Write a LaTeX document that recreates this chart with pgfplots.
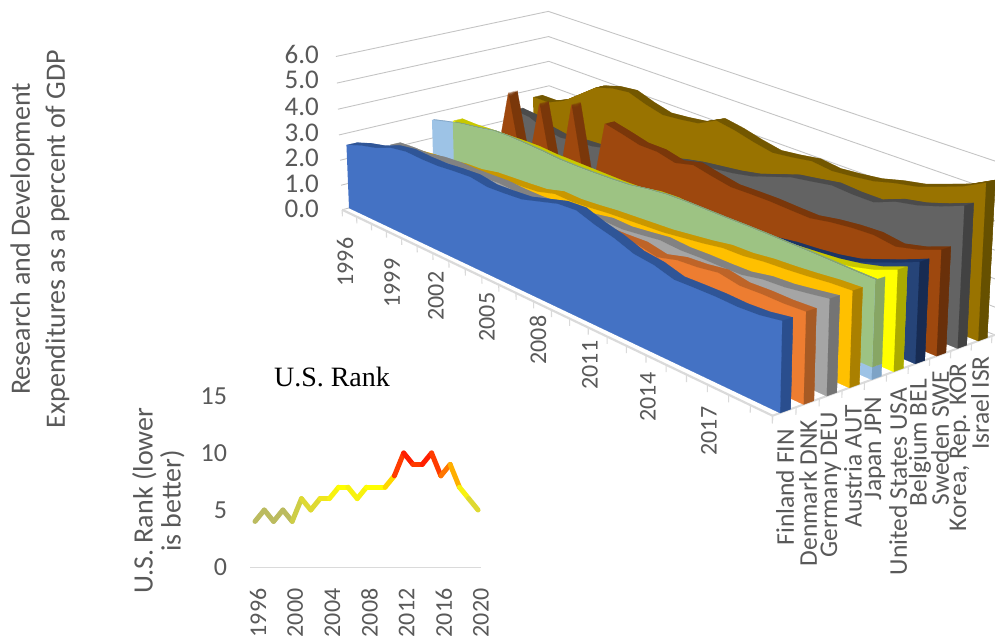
\documentclass[border=0pt]{standalone}
\usepackage{pgfplots}
\pgfplotsset{compat=1.18}
\usepackage{pgfplotstable}
\usepackage{fontspec}
\setmainfont{Carlito}
\newfontfamily\titlefont{Liberation Serif}

% R&D spending, percent of GDP; the two last rows close each series down to the floor
\pgfplotstableread{
year val
1996 2.54
1997 2.77
1998 2.93
1999 3.19
2000 3.30
2001 3.27
2002 3.28
2003 3.35
2004 3.40
2005 3.30
2006 3.34
2007 3.40
2008 3.60
2009 3.80
2010 3.85
2011 3.62
2012 3.45
2013 3.20
2014 3.12
2015 2.92
2016 2.95
2017 2.97
2018 2.95
2019 3.00
2020 3.14
2020 0
1996 0
}\tFin
\pgfplotstableread{
year val
1996 1.81
1997 1.89
1998 1.96
1999 2.11
2000 2.13
2001 2.32
2002 2.44
2003 2.51
2004 2.42
2005 2.39
2006 2.40
2007 2.50
2008 2.78
2009 3.07
2010 2.92
2011 2.94
2012 2.98
2013 2.84
2014 3.04
2015 3.10
2016 3.22
2017 3.09
2018 3.13
2019 3.13
2020 3.18
2020 0
1996 0
}\tDnk
\pgfplotstableread{
year val
1996 2.14
1997 2.19
1998 2.20
1999 2.33
2000 2.39
2001 2.39
2002 2.42
2003 2.46
2004 2.42
2005 2.42
2006 2.46
2007 2.45
2008 2.60
2009 2.73
2010 2.71
2011 2.80
2012 2.90
2013 2.85
2014 2.88
2015 2.88
2016 2.90
2017 3.05
2018 3.10
2019 3.22
2020 3.35
2020 0
1996 0
}\tDeu
\pgfplotstableread{
year val
1996 1.60
1997 1.69
1998 1.73
1999 1.85
2000 1.89
2001 2.03
2002 2.08
2003 2.13
2004 2.19
2005 2.38
2006 2.36
2007 2.42
2008 2.50
2009 2.55
2010 2.60
2011 2.65
2012 2.75
2013 2.85
2014 2.98
2015 3.00
2016 3.10
2017 3.15
2018 3.22
2019 3.31
2020 3.36
2020 0
1996 0
}\tAut
\pgfplotstableread{
year val
1996 2.73
1997 2.90
1998 3.05
1999 3.15
2000 3.28
2001 3.30
2002 3.28
2003 3.25
2004 3.20
2005 3.20
2006 3.22
2007 3.25
2008 3.30
2009 3.42
2010 3.50
2011 3.52
2012 3.52
2013 3.52
2014 3.53
2015 3.53
2016 3.52
2017 3.52
2018 3.50
2019 3.48
2020 3.47
2020 0
1996 0
}\tJpn
\pgfplotstableread{
year val
1997.4 2.98
1998 3.05
1999 3.15
2000 3.28
2001 3.30
2002 3.28
2003 3.25
2004 3.20
2005 3.20
2006 3.22
2007 3.25
2008 3.30
2009 3.42
2010 3.50
2011 3.52
2012 3.52
2013 3.52
2014 3.53
2015 3.53
2016 3.52
2017 3.52
2018 3.50
2019 3.48
2020 3.47
2020 0.45
1997.4 0.45
}\tJpnOver
\pgfplotstableread{
year val
1996 2.50
1997 2.50
1998 2.55
1999 2.58
2000 2.62
2001 2.64
2002 2.60
2003 2.60
2004 2.60
2005 2.60
2006 2.60
2007 2.63
2008 2.77
2009 2.81
2010 2.74
2011 2.77
2012 2.68
2013 2.71
2014 2.72
2015 2.79
2016 2.85
2017 2.92
2018 3.05
2019 3.25
2020 3.56
2020 0
1996 0
}\tUsa
\pgfplotstableread{
year val
1996 1.75
1997 1.80
1998 1.80
1999 1.90
2000 1.94
2001 2.07
2002 1.89
2003 1.83
2004 1.81
2005 1.78
2006 1.81
2007 1.84
2008 1.92
2009 1.99
2010 2.05
2011 2.22
2012 2.20
2013 2.25
2014 2.37
2015 2.43
2016 2.52
2017 2.67
2018 2.95
2019 3.25
2020 3.58
2020 0
1996 0
}\tBel
\pgfplotstableread{
year val
1996 0
1997 3.47
1998 0
1999 3.52
2000 0
2001 3.95
2002 0
2003 3.70
2004 3.55
2005 3.38
2006 3.38
2007 3.22
2008 3.40
2009 3.25
2010 3.12
2011 3.14
2012 3.15
2013 3.12
2014 3.10
2015 3.24
2016 3.33
2017 3.37
2018 3.26
2019 3.45
2020 3.75
2020 0
1996 0
}\tSwe
\pgfplotstableread{
year val
1996 2.35
1997 2.30
1998 2.05
1999 1.95
2000 2.05
2001 2.10
2002 2.27
2003 2.35
2004 2.50
2005 2.60
2006 2.80
2007 2.95
2008 3.05
2009 3.15
2010 3.30
2011 3.55
2012 3.80
2013 3.92
2014 4.05
2015 4.00
2016 4.00
2017 4.30
2018 4.45
2019 4.70
2020 5.00
2020 0
1996 0
}\tKor
\pgfplotstableread{
year val
1996 2.69
1997 2.70
1998 3.00
1999 3.50
2000 4.00
2001 4.20
2002 4.28
2003 4.05
2004 3.88
2005 3.95
2006 4.05
2007 4.40
2008 4.28
2009 4.10
2010 3.96
2011 4.05
2012 4.17
2013 4.08
2014 4.15
2015 4.25
2016 4.45
2017 4.60
2018 4.87
2019 5.15
2020 5.55
2020 0
1996 0
}\tIsr

% Unit square used for the end face of a ribbon
\pgfplotstableread[row sep=\\]{d f\\0 1\\1 1\\1 0\\0 0\\}\tEnd
% Two rows for a short tick below the floor, or for the ends of a floor axis
\pgfplotstableread[row sep=\\]{i h\\0 0\\1 -0.27\\}\tTick
% Path of a wall gridline: along the left wall, then the right wall
\pgfplotstableread[row sep=\\]{k v\\0 -0.035\\0 1.092\\24 1.092\\}\tWall

% U.S. rank by year
\pgfplotstableread{
year rank
1996 4
1997 5
1998 4
1999 5
2000 4
2001 6
2002 5
2003 6
2004 6
2005 7
2006 7
2007 6
2008 7
2009 7
2010 7
2011 8
2012 10
2013 9
2014 9
2015 10
2016 8
2017 9
2018 7
2019 6
2020 5
}\tRank

\definecolor{txt}{HTML}{595959}
\definecolor{gridc}{HTML}{C4C4C4}
\definecolor{axisc}{HTML}{DADADA}
\definecolor{fFin}{HTML}{4472C4}\definecolor{sFin}{HTML}{2F5597}\definecolor{eFin}{HTML}{2A4E8E}
\definecolor{fDnk}{HTML}{ED7D31}\definecolor{sDnk}{HTML}{BE6428}\definecolor{eDnk}{HTML}{A65A24}
\definecolor{fDeu}{HTML}{A5A5A5}\definecolor{sDeu}{HTML}{828282}\definecolor{eDeu}{HTML}{747474}
\definecolor{fAut}{HTML}{FFC000}\definecolor{sAut}{HTML}{C99700}\definecolor{eAut}{HTML}{AA8000}
\definecolor{fJpn}{HTML}{9DC3E6}\definecolor{sJpn}{HTML}{7FA3C4}\definecolor{eJpn}{HTML}{7DA3C6}
\definecolor{fGrn}{HTML}{9DC383}\definecolor{sGrn}{HTML}{87A66C}\definecolor{eGrn}{HTML}{87A664}
\definecolor{fUsa}{HTML}{FFFF00}\definecolor{sUsa}{HTML}{C8C800}\definecolor{eUsa}{HTML}{AAAA00}
\definecolor{fBel}{HTML}{264478}\definecolor{sBel}{HTML}{1B3566}\definecolor{eBel}{HTML}{172B52}
\definecolor{fSwe}{HTML}{9E480E}\definecolor{sSwe}{HTML}{7A370A}\definecolor{eSwe}{HTML}{69300A}
\definecolor{fKor}{HTML}{636363}\definecolor{sKor}{HTML}{4B4B4B}\definecolor{eKor}{HTML}{424242}
\definecolor{fIsr}{HTML}{997300}\definecolor{sIsr}{HTML}{735700}\definecolor{eIsr}{HTML}{665000}

% Top of a ribbon: the series swept from the front plane toward the back
\newcommand{\sweep}[3]{%
  \pgfplotsinvokeforeach{1,0.9,0.8,0.7,0.6,0.5,0.4,0.3,0.2,0.1}{%
    \addplot[fill=#3,draw=#3,line width=0.2pt,forget plot] table[
      x expr={px(\thisrow{year}-1996,#2+0.05*##1,\thisrow{val})},
      y expr={py(\thisrow{year}-1996,#2+0.05*##1,\thisrow{val})}] {#1};
  }}
% A shallower top for the translucent-looking band
\newcommand{\thinsweep}[3]{%
  \pgfplotsinvokeforeach{1,0.5}{%
    \addplot[fill=#3,draw=#3,line width=0.2pt,forget plot] table[
      x expr={px(\thisrow{year}-1996,#2+0.012*##1,\thisrow{val})},
      y expr={py(\thisrow{year}-1996,#2+0.012*##1,\thisrow{val})}] {#1};
  }}
% Front of a ribbon
\newcommand{\face}[3]{%
  \addplot[fill=#3,draw=#3,line width=0.2pt,forget plot] table[
    x expr={px(\thisrow{year}-1996,#2,\thisrow{val})},
    y expr={py(\thisrow{year}-1996,#2,\thisrow{val})}] {#1};}
% End of a ribbon at the last year, between two heights
\newcommand{\capend}[4]{%
  \addplot[fill=#4,draw=#4,line width=0.2pt,forget plot] table[
    x expr={px(24,#1+0.05*\thisrow{d},#2+(#3-#2)*\thisrow{f})},
    y expr={py(24,#1+0.05*\thisrow{d},#2+(#3-#2)*\thisrow{f})}] {\tEnd};}
\newcommand{\ribbon}[4]{%
  \sweep{#1}{#2}{s#4}\capend{#2}{0}{#3}{e#4}\face{#1}{#2}{f#4}}

\newcommand{\pctfont}{\fontsize{27}{30}\selectfont}
\newcommand{\yearfont}{\fontsize{24}{28}\selectfont}
\newcommand{\rowfont}{\fontsize{25.5}{28}\selectfont}
% Scale labels of the ribbon chart
\newcommand{\pctlabel}[2]{\node[anchor=east,text=txt,font=\pctfont,inner sep=0pt] at (axis cs:319,#2) {#1};}
\newcommand{\yearlabel}[3]{\node[rotate=90,text=txt,font=\yearfont,inner sep=0pt] at (axis cs:#2,#3) {#1};}
\newcommand{\rowlabel}[3]{\node[rotate=90,anchor=east,text=txt,font=\rowfont,inner sep=0pt] at (axis cs:#2,#3) {#1};}

\begin{document}
\begin{tikzpicture}[
  declare function={
    px(\k,\v,\z)=(11.4975*\k+216.7*\v+349-2.22*\z)/(1-0.008283*\k+0.05937*\v-0.0035*\z);
    py(\k,\v,\z)=(5.1208*\k-37.44*\v+208-25.92*\z)/(1-0.008283*\k+0.05937*\v-0.00765*\z);
  }]
\path[use as bounding box] (0,0) rectangle (995pt,638pt);
\begin{axis}[at={(0,0)},anchor=south west,width=995pt,height=638pt,scale only axis,
  xmin=0,xmax=995,ymin=0,ymax=638,y dir=reverse,hide axis,clip=true,no markers]

  % wall gridlines for 0 to 6 percent
  \pgfplotsinvokeforeach{0,...,6}{%
    \addplot[draw=gridc,line width=0.9pt,forget plot] table[
      x expr={px(\thisrow{k},\thisrow{v},#1)},
      y expr={py(\thisrow{k},\thisrow{v},#1)}] {\tWall};
  }

  % floor axes with their ticks
  \addplot[draw=axisc,line width=2.2pt,forget plot] table[
      x expr={px(24*\thisrow{i},-0.035,0)},y expr={py(24*\thisrow{i},-0.035,0)}] {\tTick};
  \addplot[draw=axisc,line width=2pt,forget plot] table[
      x expr={px(24,-0.035+1.127*\thisrow{i},0)},y expr={py(24,-0.035+1.127*\thisrow{i},0)}] {\tTick};
  \pgfplotsinvokeforeach{0,...,24}{%
    \addplot[draw=axisc,line width=1.1pt,forget plot] table[
      x expr={px(#1,-0.035,\thisrow{h})},y expr={py(#1,-0.035,\thisrow{h})}] {\tTick};
  }
  \pgfplotsinvokeforeach{0,...,10}{%
    \addplot[draw=axisc,line width=1.1pt,forget plot] table[
      x expr={px(24,#1/9-0.035,\thisrow{h})},y expr={py(24,#1/9-0.035,\thisrow{h})}] {\tTick};
  }

  % ribbons, from the back row to the front row
  \ribbon{\tIsr}{9/9}{5.55}{Isr}
  \ribbon{\tKor}{8/9}{5.00}{Kor}
  \ribbon{\tSwe}{7/9}{3.75}{Swe}
  \ribbon{\tBel}{6/9}{3.58}{Bel}
  \ribbon{\tUsa}{5/9}{3.56}{Usa}
  \thinsweep{\tJpn}{4/9}{sJpn}
  \thinsweep{\tJpnOver}{4/9}{sGrn}
  \capend{4/9}{0}{0.45}{eJpn}
  \capend{4/9}{0.45}{3.47}{eGrn}
  \face{\tJpn}{4/9}{fJpn}
  \face{\tJpnOver}{4/9}{fGrn}
  \ribbon{\tAut}{3/9}{3.36}{Aut}
  \ribbon{\tDeu}{2/9}{3.35}{Deu}
  \ribbon{\tDnk}{1/9}{3.18}{Dnk}
  \ribbon{\tFin}{0/9}{3.14}{Fin}

  % percent scale
  \pctlabel{6.0}{54}\pctlabel{5.0}{80}\pctlabel{4.0}{107}\pctlabel{3.0}{133}
  \pctlabel{2.0}{158}\pctlabel{1.0}{184}\pctlabel{0.0}{209}

  % year scale
  \yearlabel{1996}{345}{262}\yearlabel{1999}{392}{283}\yearlabel{2002}{436}{296}
  \yearlabel{2005}{487}{317}\yearlabel{2008}{538}{340}\yearlabel{2011}{590}{365}
  \yearlabel{2014}{648}{397}\yearlabel{2017}{709}{431}

  % country scale
  \rowlabel{Finland FIN}{785}{429}\rowlabel{Denmark DNK}{808}{420}
  \rowlabel{Germany DEU}{831}{412}\rowlabel{Austria AUT}{853}{405}
  \rowlabel{Japan JPN}{875}{397}\rowlabel{United States USA}{898}{388}
  \rowlabel{Belgium BEL}{920}{379}\rowlabel{Sweden SWE}{940}{371}
  \rowlabel{Korea, Rep. KOR}{960}{363}\rowlabel{Israel ISR}{980}{356}

  % axis title of the percent scale
  \node[rotate=90,align=center,text=txt,font=\fontsize{28}{35}\selectfont,inner sep=0pt] at (axis cs:40,239)
    {Research and Development\\Expenditures as a percent of GDP};
\end{axis}

\begin{axis}[at={(250pt,71pt)},anchor=south west,width=231pt,height=171pt,scale only axis,
  xmin=1995.46,xmax=2020.32,ymin=0,ymax=15,clip=false,
  axis x line=bottom,axis y line=left,
  x axis line style={draw=axisc,line width=1pt,-},y axis line style={draw=none},
  major tick length=0pt,
  xtick={1996,2000,...,2020},ytick={0,5,10,15},
  /pgf/number format/1000 sep={},/pgf/number format/assume math mode=true,
  tick label style={text=txt},
  xticklabel style={font=\yearfont,rotate=90,anchor=east,yshift=-3pt,xshift=-18pt},
  yticklabel style={font=\fontsize{26}{30}\selectfont,anchor=east,xshift=-19.5pt},
  colormap={heat}{rgb255(4)=(170,170,120) rgb255(5)=(205,205,70)
    rgb255(6)=(240,230,30) rgb255(7)=(255,255,0)
    rgb255(8)=(255,175,0) rgb255(9)=(255,60,0)
    rgb255(10)=(255,0,0)},
  point meta min=4,point meta max=10]
  \addplot[mesh,point meta=y,line width=5pt,line join=round,line cap=round,forget plot]
    table[x=year,y=rank] {\tRank};
  \node[text=black,font=\titlefont\fontsize{28}{32}\selectfont,inner sep=0pt] at (rel axis cs:0.355,1.11) {U.S. Rank};
  \node[rotate=90,align=center,text=txt,font=\fontsize{28}{28}\selectfont,inner sep=0pt] at (axis cs:1985.6,5.8)
    {U.S. Rank (lower\\is better)};
\end{axis}
\end{tikzpicture}
\end{document}
